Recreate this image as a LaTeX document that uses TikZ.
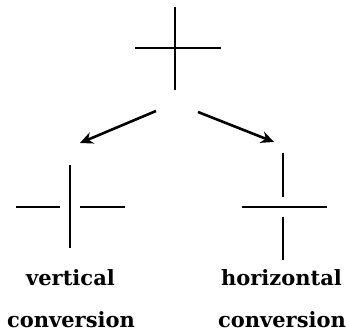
\documentclass[tikz,border=0pt]{standalone}
\usepackage{fontspec}
\setmainfont{DejaVu Serif}
\usetikzlibrary{arrows.meta}
\begin{document}
\begin{tikzpicture}[x=1pt,y=-1pt,
  stroke/.style={line width=2.6pt,line cap=butt},
  conv/.style={stroke,-{Stealth[length=13pt,width=12pt]}},
  lbl/.style={anchor=base,inner sep=0pt,font=\fontsize{21}{25}\selectfont\bfseries}]
\useasboundingbox (0,0) rectangle (346,336);
% top cross
\draw[stroke] (175,7) -- (175,90);
\draw[stroke] (135,48) -- (221,48);
% arrows
\coordinate (la) at (156,111);
\coordinate (lt) at (80,143);
\coordinate (ra) at (198,112);
\coordinate (rt) at (274,142);
\draw[conv] (la) -- (lt);
\draw[conv] (ra) -- (rt);
% left cross (vertical conversion)
\draw[stroke] (70,165) -- (70,248);
\draw[stroke] (16,207) -- (60,207);
\draw[stroke] (80,207) -- (125,207);
% right cross (horizontal conversion)
\draw[stroke] (283,153) -- (283,197);
\draw[stroke] (283,217) -- (283,260);
\draw[stroke] (242,207) -- (327,207);
% labels
\node[lbl] (v1) at (70.5,286) {vertical};
\node[lbl] (v2) at (71,328) {conversion};
\node[lbl] (h1) at (281.5,286) {horizontal};
\node[lbl] (h2) at (282,328) {conversion};
\end{tikzpicture}
\end{document}
